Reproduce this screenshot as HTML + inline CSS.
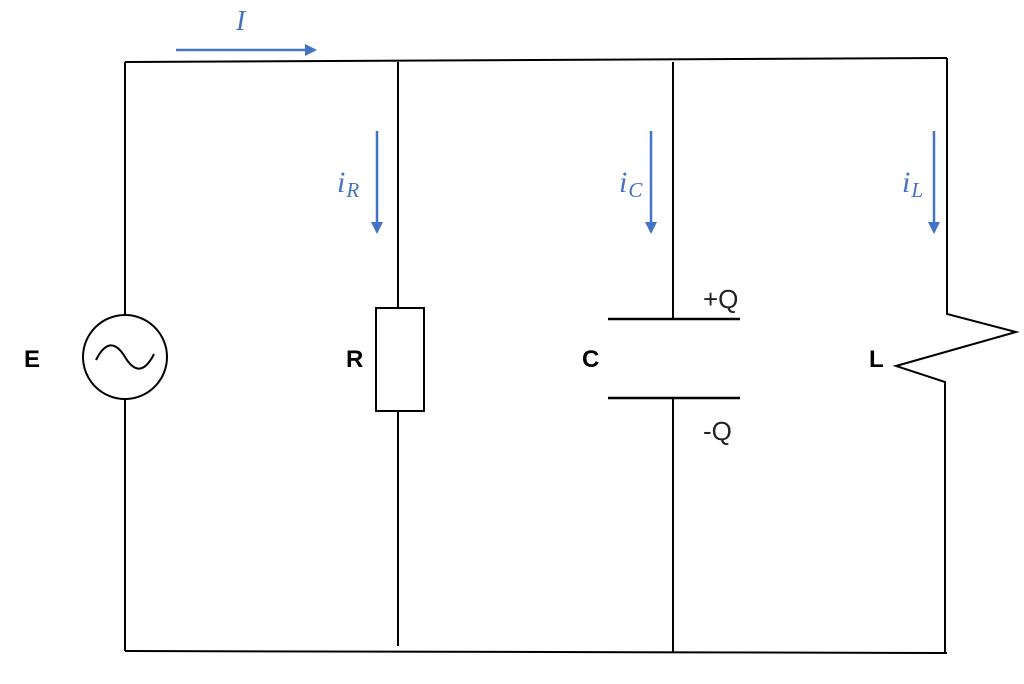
<!DOCTYPE html>
<html><head><meta charset="utf-8"><style>
html,body{margin:0;padding:0;background:#fff;}
svg{display:block;}
</style></head><body>
<svg width="1024" height="684" viewBox="0 0 1024 684" xmlns="http://www.w3.org/2000/svg">
<defs>
<marker id="ah" markerWidth="12" markerHeight="12" refX="10" refY="6" orient="auto" markerUnits="userSpaceOnUse">
<path d="M0,0 L12,6 L0,12 z" fill="#4472c4"/>
</marker>
</defs>
<g stroke="#000" stroke-width="2" fill="none">
<line x1="125" y1="62" x2="947" y2="58"/>
<line x1="125" y1="651" x2="947" y2="653"/>
<line x1="125" y1="62" x2="125" y2="315"/>
<line x1="125" y1="399" x2="125" y2="651"/>
<circle cx="125" cy="357" r="42"/>
<path d="M96,360 C106,340 116,342 125,357 C134,372 144,374 154,354"/>
<line x1="398" y1="62" x2="398" y2="308"/>
<rect x="376" y="308" width="48" height="103"/>
<line x1="398" y1="411" x2="398" y2="646"/>
<line x1="673" y1="62" x2="673" y2="319"/>
<line x1="608" y1="319" x2="740" y2="319" stroke-width="2.5"/>
<line x1="608" y1="398" x2="740" y2="398" stroke-width="2.5"/>
<line x1="673" y1="398" x2="673" y2="653"/>
<polyline points="947,58 947,314 1016,332 896,366 945,382 945,653"/>
</g>
<g stroke="#4472c4" stroke-width="2.5" fill="none">
<line x1="176" y1="50" x2="315" y2="50" marker-end="url(#ah)"/>
<line x1="377" y1="131" x2="377" y2="232" marker-end="url(#ah)"/>
<line x1="651" y1="131" x2="651" y2="232" marker-end="url(#ah)"/>
<line x1="934" y1="131" x2="934" y2="232" marker-end="url(#ah)"/>
</g>
<g fill="#4472c4" font-family="Liberation Serif, serif" font-style="italic">
<text x="236" y="30" font-size="28">I</text>
<text x="337" y="192" font-size="30">i<tspan font-size="21" dy="5" dx="1">R</tspan></text>
<text x="619" y="192" font-size="30">i<tspan font-size="21" dy="5" dx="1">C</tspan></text>
<text x="902" y="192" font-size="30">i<tspan font-size="21" dy="5" dx="1">L</tspan></text>
</g>
<g font-family="Liberation Sans, sans-serif" font-weight="bold" font-size="24" fill="#000">
<text x="24" y="367">E</text>
<text x="346" y="367">R</text>
<text x="582" y="367">C</text>
<text x="869" y="367">L</text>
</g>
<g font-family="Liberation Sans, sans-serif" font-size="26" fill="#222">
<text x="703" y="308">+Q</text>
<text x="703" y="440">-Q</text>
</g>
</svg>
</body></html>
